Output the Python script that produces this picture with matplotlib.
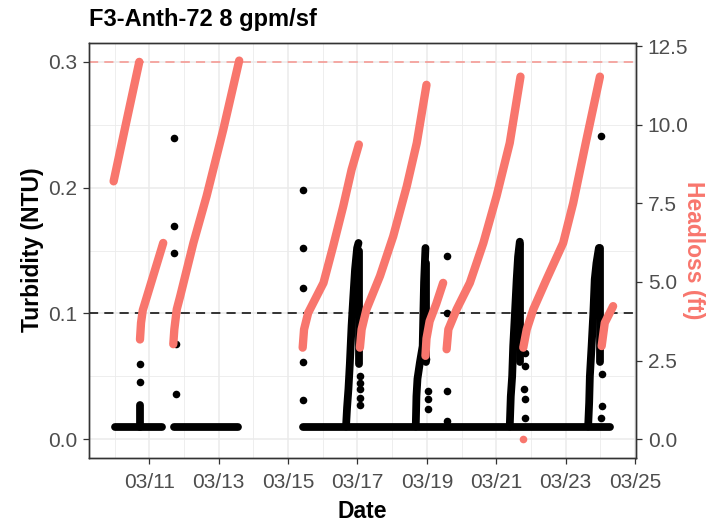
import matplotlib
matplotlib.use("Agg")
import matplotlib.pyplot as plt
import numpy as np
import pandas as pd

plt.rcParams["font.family"] = ["Liberation Sans", "DejaVu Sans"]

# ---- data (day of March, NTU / ft) ----
# turbidity: dense runs of readings (drawn as thick round lines) + single readings
turb_run_days = [
    [10.01, 11.36],
    [11.70, 13.57],
    [15.44, 24.28],
    [10.73, 10.73],
    [16.67, 16.70, 16.74, 16.78, 16.83, 16.88, 16.93, 16.99, 17.03],
    [17.04, 17.04],
    [18.68, 18.70, 18.73, 18.80, 18.88, 18.90, 18.92, 18.96],
    [18.975, 18.975],
    [21.39, 21.42, 21.46, 21.49, 21.54, 21.59, 21.63, 21.68],
    [21.70, 21.70],
    [23.65, 23.68, 23.70, 23.75, 23.80, 23.84, 23.89, 23.96],
    [23.99, 23.99],
]
turb_run_vals = [
    [0.01, 0.01],
    [0.01, 0.01],
    [0.01, 0.01],
    [0.01, 0.027],
    [0.01, 0.025, 0.04, 0.06, 0.09, 0.113, 0.135, 0.152, 0.156],
    [0.15, 0.06],
    [0.01, 0.034, 0.048, 0.061, 0.074, 0.10, 0.125, 0.152],
    [0.14, 0.061],
    [0.01, 0.034, 0.05, 0.074, 0.10, 0.127, 0.145, 0.157],
    [0.155, 0.061],
    [0.01, 0.029, 0.05, 0.074, 0.10, 0.127, 0.14, 0.152],
    [0.152, 0.061],
]
turb_pt_days = [10.73, 10.73, 11.72, 11.72, 11.72, 11.76, 11.76,
                15.44, 15.44, 15.42, 15.44, 15.44,
                17.07, 17.07, 17.07, 17.07, 17.07,
                19.04, 19.04, 19.04, 18.99,
                19.57, 19.57, 19.57, 19.57,
                21.83, 21.83, 21.80, 21.83, 21.83,
                24.04, 24.04, 24.02, 24.02]
turb_pt_vals = [0.0595, 0.0458, 0.2394, 0.1693, 0.148, 0.0754, 0.0357,
                0.1984, 0.1521, 0.1204, 0.0614, 0.0309,
                0.050, 0.045, 0.040, 0.033, 0.027,
                0.038, 0.032, 0.024, 0.064,
                0.1455, 0.1005, 0.0384, 0.0146,
                0.0688, 0.0582, 0.0397, 0.0317, 0.0172,
                0.0516, 0.0265, 0.0172, 0.2413]

# headloss: filter runs
head_days = [
    [9.97, 10.35, 10.71],
    [10.73, 10.76, 10.81, 11.40],
    [11.69, 11.72, 11.79, 11.89, 12.27, 12.65, 13.13, 13.59],
    [15.42, 15.46, 15.58, 16.02, 16.30, 16.59, 16.83, 17.04],
    [17.07, 17.12, 17.26, 17.65, 18.03, 18.42, 18.71, 18.99],
    [18.96, 18.99, 19.08, 19.27, 19.47],
    [19.57, 19.62, 19.86, 20.24, 20.63, 21.01, 21.39, 21.70],
    [21.78, 21.88, 22.07, 22.45, 22.93, 23.22, 23.60, 23.99],
    [24.04, 24.13, 24.37],
]
head_vals = [
    [8.2, 10.16, 12.0],
    [3.17, 3.7, 4.1, 6.24],
    [3.02, 3.49, 4.13, 4.55, 6.24, 7.73, 9.84, 12.04],
    [2.91, 3.49, 4.02, 4.97, 6.14, 7.41, 8.57, 9.37],
    [2.91, 3.49, 4.13, 5.19, 6.45, 8.04, 9.42, 11.27],
    [2.65, 3.2, 3.75, 4.3, 4.97],
    [2.86, 3.49, 4.13, 4.97, 6.24, 7.73, 9.42, 11.53],
    [2.91, 3.49, 4.13, 5.08, 6.24, 7.51, 9.52, 11.53],
    [2.96, 3.7, 4.23],
]
head_pt_days = [21.76]
head_pt_vals = [0.0]

x_tick_days = [11, 13, 15, 17, 19, 21, 23, 25]
x_tick_labels = ["03/11", "03/13", "03/15", "03/17", "03/19", "03/21", "03/23", "03/25"]
x_minor_days = [10, 12, 14, 16, 18, 20, 22, 24]
turb_ticks = [0.0, 0.1, 0.2, 0.3]
head_ticks = [0.0, 2.5, 5.0, 7.5, 10.0, 12.5]
turb_limit = 0.1
head_limit = 12
ft_per_ntu = 40  # secondary axis scale


def day(d):
    return pd.Timestamp("2021-03-01") + pd.to_timedelta(np.asarray(d, float) - 1, unit="D")


salmon = "#F8766D"
fig = plt.figure(figsize=(7.25, 5.25), dpi=100)
ax = fig.add_axes([89 / 725, 1 - 458 / 525, 547 / 725, 415 / 525])

for d, v in zip(turb_run_days, turb_run_vals):
    ax.plot(day(d), v, color="black", lw=5.6, solid_capstyle="round",
            solid_joinstyle="round", zorder=3)
ax.scatter(day(turb_pt_days), turb_pt_vals, s=30, color="black", lw=0, zorder=3)
ax.axhline(turb_limit, color="black", lw=1.1, dashes=(6, 4), zorder=4)

ax.set_xlim(day(9.26), day(25.03))
ax.set_ylim(-0.015, 0.315)

ax2 = ax.twinx()
for d, v in zip(head_days, head_vals):
    ax2.plot(day(d), v, color=salmon, lw=6.0, solid_capstyle="round",
             solid_joinstyle="round", zorder=3)
ax2.scatter(day(head_pt_days), head_pt_vals, s=30, color=salmon, lw=0, zorder=3)
ax2.axhline(head_limit, color=salmon, alpha=0.75, lw=1.1, dashes=(6, 4), zorder=2)
ax2.set_ylim(-0.015 * ft_per_ntu, 0.315 * ft_per_ntu)

# ticks and grid
ax.set_xticks(day(x_tick_days))
ax.set_xticklabels(x_tick_labels)
ax.set_xticks(day(x_minor_days), minor=True)
ax.set_yticks(turb_ticks)
ax.set_yticklabels([f"{t:.1f}" for t in turb_ticks])
ax.set_yticks([0.05, 0.15, 0.25], minor=True)
ax2.set_yticks(head_ticks)
ax2.set_yticklabels([f"{t:.1f}" for t in head_ticks])

ax.grid(which="major", color="#EBEBEB", lw=1.1)
ax.grid(which="minor", color="#EBEBEB", lw=0.6)
ax.set_axisbelow(True)

for a in (ax, ax2):
    for s in a.spines.values():
        s.set_color("#333333")
        s.set_linewidth(1.0)
    a.tick_params(which="major", length=4, width=0.9, color="#333333",
                  labelcolor="#4D4D4D", labelsize=15, pad=4.5)
    a.tick_params(which="minor", length=0)
ax.tick_params(axis="x", pad=7)

fig.text(89 / 725, 1 - 26 / 525, "F3-Anth-72 8 gpm/sf", fontsize=17,
         fontweight="bold", ha="left", va="baseline")
fig.text(362 / 725, 1 - 518 / 525, "Date", fontsize=16.5, fontweight="bold",
         ha="center", va="baseline")
fig.text(33 / 725, 1 - 250 / 525, "Turbidity (NTU)", fontsize=16.5,
         fontweight="bold", rotation=90, ha="center", va="center")
fig.text(694 / 725, 1 - 250 / 525, "Headloss (ft)", fontsize=16.5, color=salmon,
         fontweight="bold", rotation=270, ha="center", va="center")

fig.savefig("out.png", dpi=100)
